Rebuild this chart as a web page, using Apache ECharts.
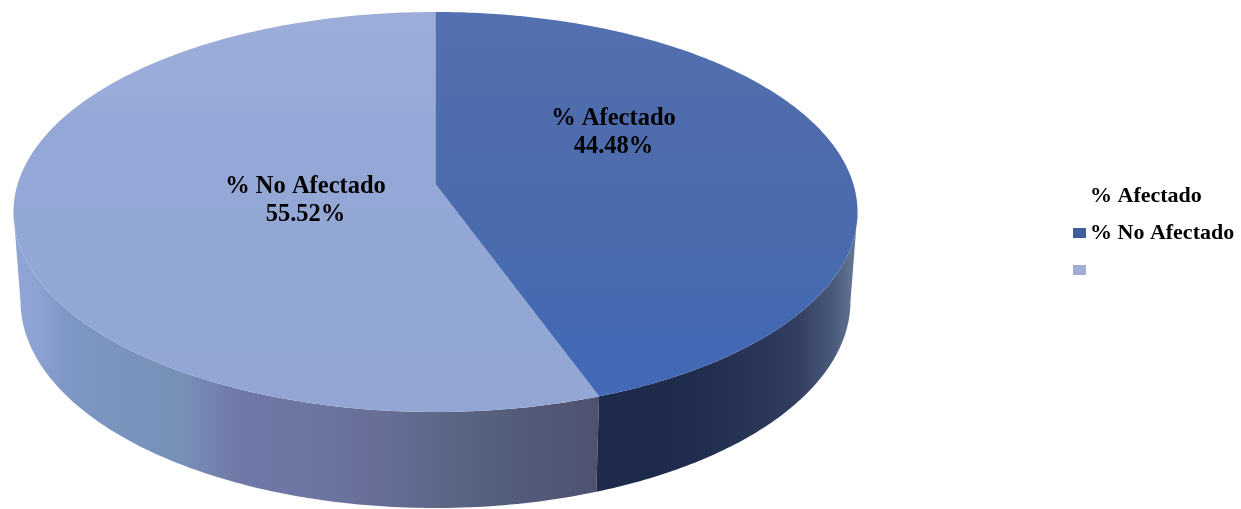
<!DOCTYPE html>
<html>
<head>
<meta charset="utf-8">
<style>html,body{margin:0;padding:0;background:#fff}#c{width:1241px;height:509px}</style>
<script src="https://cdn.jsdelivr.net/npm/echarts@6/dist/echarts.min.js"></script>
</head>
<body>
<div id="c"></div>
<script>
var categories = ['% Afectado', '% No Afectado'];
var values = [44.48, 55.52];
var legendNames = ['% Afectado', '% No Afectado', ' '];

var total = values.reduce(function (a, b) { return a + b; }, 0);
var chart = echarts.init(document.getElementById('c'), null, {renderer: 'canvas'});

// Perspective projection of a disc: top rim ellipse, with the apex above its centre.
var CX = 435.5, APEX_Y = 184, TOP_Y = 12, BOT_Y = 412, RX = 422;
var ELL_CY = (TOP_Y + BOT_Y) / 2, ELL_RY = (BOT_Y - TOP_Y) / 2;
var LOW_CY = 301, LOW_RX = 415, LOW_RY = 207;
var c = (2 * APEX_Y - TOP_Y - BOT_Y) / (BOT_Y - TOP_Y);
var a = (BOT_Y * (1 + c) - APEX_Y);
var e = RX * Math.sqrt(1 - c * c);

function rim(theta) {
  var u = Math.sin(theta), v = -Math.cos(theta), d = 1 + c * v;
  return [CX + e * u / d, (a * v + APEX_Y) / d];
}
function lower(p) {
  var nx = (p[0] - CX) / RX, ny = (p[1] - ELL_CY) / ELL_RY;
  return [CX + LOW_RX * nx, LOW_CY + LOW_RY * ny];
}
function grad(stops, x, y, x2, y2) {
  return new echarts.graphic.LinearGradient(x, y, x2, y2, stops.map(function (s) {
    return {offset: s[0], color: s[1]};
  }), true);
}

var looks = [
  {
    top: [[0, '#5370b0'], [0.3, '#4e6cad'], [0.55, '#4a6bad'], [0.8, '#4469b3'], [1, '#4269b8']],
    side: [[0.6, '#1d2a4c'], [0.76, '#1d2a4c'], [0.82, '#222e50'], [0.88, '#2a3658'], [0.93, '#333f60'], [0.97, '#4a5a7c'], [1, '#6a7a98']],
    label: {x: 613.5, y: 133}
  },
  {
    top: [[0, '#9cadda'], [0.2, '#9aabd9'], [0.28, '#94a7d6'], [0.7, '#93a7d5'], [1, '#93a6d3']],
    side: [[0, '#8fa6d6'], [0.03, '#8ea2d2'], [0.06, '#7f97c6'], [0.12, '#7a94bd'], [0.2, '#7790b8'], [0.26, '#7179a8'], [0.36, '#6c74a2'], [0.44, '#666e96'], [0.52, '#5a6686'], [0.6, '#525c7a'], [0.68, '#4f5472'], [0.72, '#4c4a66']],
    label: {x: 305.5, y: 201}
  }
];

function makeRender(index) {
  return function (params, api) {
    var value = api.value(0);
    var before = 0;
    for (var i = 0; i < index; i++) before += values[i];
    var t0 = before / total * 2 * Math.PI;
    var t1 = (before + value) / total * 2 * Math.PI;
    var look = looks[index];
    var n = 240, arc = [], vis = [];
    for (var j = 0; j <= n; j++) {
      var p = rim(t0 + (t1 - t0) * j / n);
      arc.push(p);
      if (p[1] >= ELL_CY) vis.push(p);
    }
    var sidePts = vis.concat(vis.map(lower).reverse());
    var children = [
      {
        type: 'polygon', shape: {points: sidePts},
        style: {fill: grad(look.side, 13, 0, 858, 0)}
      },
      {
        type: 'polygon', shape: {points: [[CX, APEX_Y]].concat(arc)},
        style: {fill: grad(look.top, 0, TOP_Y, 0, BOT_Y)}
      },
      {
        type: 'text', x: look.label.x, y: look.label.y,
        style: {
          text: categories[index] + '\n' + value.toFixed(2) + '%',
          align: 'center', verticalAlign: 'middle', lineHeight: 28,
          font: 'bold 24.5px "Liberation Serif"', fill: '#000'
        }
      }
    ];
    return {type: 'group', children: children};
  };
}

chart.setOption({
  animation: false,
  backgroundColor: '#fff',
  legend: {
    orient: 'vertical',
    left: 1068, top: 180,
    itemWidth: 13, itemHeight: 10, itemGap: 15, selectedMode: false,
    textStyle: {fontFamily: 'Liberation Serif', fontWeight: 'bold', fontSize: 22, color: '#000', lineHeight: 19, padding: [0, 0, 0, -1]},
    data: [
      {name: legendNames[0], icon: 'none'},
      {name: legendNames[1], icon: 'rect', itemStyle: {color: '#3f5f9c'}},
      {name: legendNames[2], icon: 'rect', itemStyle: {color: '#a0aed6'}}
    ]
  },
  series: [
    {type: 'custom', name: legendNames[1], coordinateSystem: 'none', silent: true, data: [[values[1]]], renderItem: makeRender(1)},
    {type: 'custom', name: legendNames[0], coordinateSystem: 'none', silent: true, data: [[values[0]]], renderItem: makeRender(0)},
    {type: 'custom', name: legendNames[2], coordinateSystem: 'none', silent: true, data: [], renderItem: function () { return null; }}
  ]
});
</script>
</body>
</html>
